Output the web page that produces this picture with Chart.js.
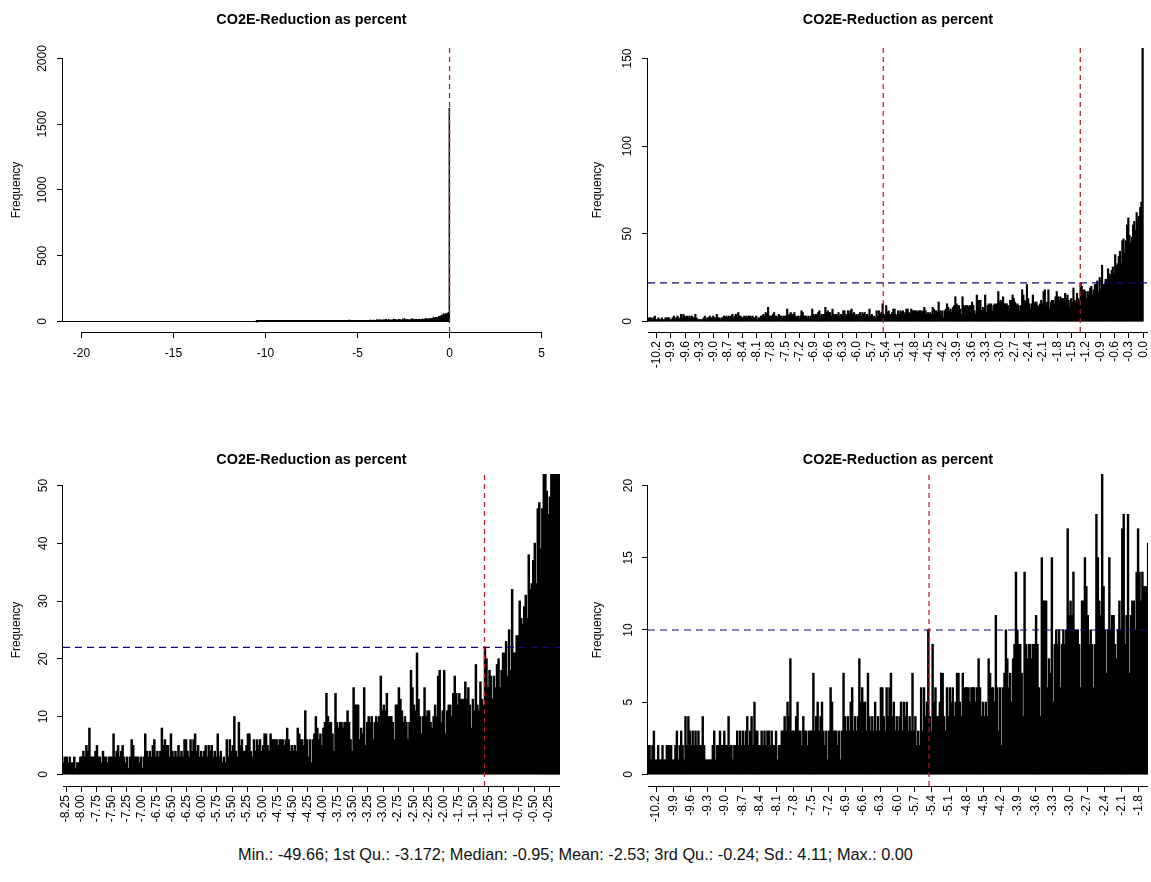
<!DOCTYPE html>
<html>
<head>
<meta charset="utf-8">
<title>CO2E-Reduction as percent</title>
<script src="https://cdn.jsdelivr.net/npm/chart.js@4.4.0/dist/chart.umd.min.js"></script>
<style>
    html, body { margin: 0; padding: 0; background: #fff; }
    #wrap { position: relative; width: 1151px; height: 882px; overflow: hidden; }
    #wrap canvas { position: absolute; }
    #summary {
        position: absolute; left: 0; top: 845px; width: 1151px;
        text-align: center; color: #111;
        font: 16.3px "Liberation Sans", Arial, sans-serif;
    }
</style>
</head>
<body>
<div id="wrap">
    <canvas id="p1" width="575" height="420" style="left:0px;top:0px"></canvas>
    <canvas id="p2" width="576" height="420" style="left:575px;top:0px"></canvas>
    <canvas id="p3" width="575" height="420" style="left:0px;top:420px"></canvas>
    <canvas id="p4" width="576" height="420" style="left:575px;top:420px"></canvas>
    <div id="summary"></div>
</div>
<script>
// histogram bins (same breaks in every panel)
let binStart = -10.5
let binWidth = 0.025
let counts = [
    1,0,1,2,1, 2,2,2,1,2, 3,1,1,2,1, 1,2,1,1,2,
    2,2,2,1,1, 2,3,1,2,3, 2,1,4,2,4, 3,2,3,2,3,
    2,3,2,2,4, 2,1,1,1,1, 1,2,3,1,2, 2,3,2,2,3,
    2,2,4,2,2, 1,2,2,3,2, 3,2,3,2,3, 4,2,3,4,2,
    5,3,3,2,2, 3,2,3,2,3, 3,2,3,2,2, 3,1,2,2,3,
    3,4,3,5,4, 8,3,3,3,4, 5,3,3,2,4, 3,3,2,3,3,
    3,7,3,4,5, 3,4,5,3,2, 3,1,3,6,5, 3,3,3,2,3,
    1,3,7,4,3, 4,3,5,6,3, 4,3,4,8,5, 6,5,5,3,7,
    4,3,4,3,5, 3,4,3,6,6, 4,3,6,4,6, 7,4,5,3,4,
    3,4,5,3,5, 4,5,3,4,3, 7,3,4,2,3, 2,6,3,6,4,
    5,10,4,3,9, 5,6,4,4,5, 7,7,4,3,6, 4,6,5,6,4,
    5,7,7,5,4, 7,6,6,6,6, 5,6,6,6,5, 6,8,6,4,5,
    4,5,4,8,7, 6,6,5,11,6, 3,6,2,6,7, 10,8,6,7,5,
    8,9,14,10,9, 9,7,4,14,9, 8,9,9,8,9, 9,11,9,6,4,
    15,12,12,12,6, 8,7,15,5,9, 10,9,10,6,9, 10,9,10,17,11,
    12,11,14,10,10, 10,9,6,12,12, 15,13,11,9,10, 9,6,9,18,15,
    12,11,21,13,10, 7,10,15,10,11, 11,9,8,10,12, 10,17,18,9,11,
    18,7,11,12,12, 10,14,17,14,12, 14,13,13,13,16, 13,15,12,8,13,
    11,19,12,11,16, 13,12,22,20,15, 18,17,13,17,15, 19,20,15,18,21,
    21,23,17,25,18, 32,21,21,24,24, 30,27,26,29,31, 27,38,32,33,37,
    40,33,46,47,39, 46,55,59,49,45, 48,55,57,52,62, 58,60,65,68,1620
]

let titleText = "CO2E-Reduction as percent"
let yLabel = "Frequency"
let summaryText = "Min.: -49.66; 1st Qu.: -3.172; Median: -0.95; Mean: -2.53; 3rd Qu.: -0.24; Sd.: 4.11; Max.: 0.00"

// tick labels
let xTicks1 = [-20, -15, -10, -5, 0, 5]
let yTicks1 = [0, 500, 1000, 1500, 2000]
let xTicks2 = [-10.2, -9.9, -9.6, -9.3, -9.0, -8.7, -8.4, -8.1, -7.8, -7.5, -7.2, -6.9, -6.6, -6.3, -6.0, -5.7, -5.4, -5.1, -4.8, -4.5, -4.2, -3.9, -3.6, -3.3, -3.0, -2.7, -2.4, -2.1, -1.8, -1.5, -1.2, -0.9, -0.6, -0.3, 0.0]
let yTicks2 = [0, 50, 100, 150]
let xTicks3 = [-8.25, -8.00, -7.75, -7.50, -7.25, -7.00, -6.75, -6.50, -6.25, -6.00, -5.75, -5.50, -5.25, -5.00, -4.75, -4.50, -4.25, -4.00, -3.75, -3.50, -3.25, -3.00, -2.75, -2.50, -2.25, -2.00, -1.75, -1.50, -1.25, -1.00, -0.75, -0.50, -0.25]
let yTicks3 = [0, 10, 20, 30, 40, 50]
let xTicks4 = [-10.2, -9.9, -9.6, -9.3, -9.0, -8.7, -8.4, -8.1, -7.8, -7.5, -7.2, -6.9, -6.6, -6.3, -6.0, -5.7, -5.4, -5.1, -4.8, -4.5, -4.2, -3.9, -3.6, -3.3, -3.0, -2.7, -2.4, -2.1, -1.8]
let yTicks4 = [0, 5, 10, 15, 20]

// reference lines
let redLines1 = [0]
let redLines2 = [-5.45, -1.32]
let redLines3 = [-1.32]
let redLines4 = [-5.45]
let blueLevel2 = 22
let blueLevel3 = 22
let blueLevel4 = 10

let fontFamily = "'Liberation Sans', Arial, sans-serif"
let redColor = "#b01818"
let blueColor = "#0a0a70"

Chart.defaults.font.family = fontFamily
Chart.defaults.color = "#000"

document.getElementById("summary").textContent = summaryText


// R style axis lines: only between the given values
let axisLines = {
    id: "axisLines",
    afterDraw(chart, args, opts) {
        let ctx = chart.ctx
        let area = chart.chartArea
        let x = chart.scales.x
        let y = chart.scales.y
        let by = Math.round(area.bottom) + 0.5
        let lx = Math.round(area.left) - 0.5
        ctx.save()
        ctx.strokeStyle = "#000"
        ctx.lineWidth = 1
        ctx.beginPath()
        ctx.moveTo(x.getPixelForValue(opts.xFrom), by)
        ctx.lineTo(x.getPixelForValue(opts.xTo), by)
        ctx.moveTo(lx, y.getPixelForValue(opts.yFrom))
        ctx.lineTo(lx, y.getPixelForValue(opts.yTo))
        ctx.stroke()
        ctx.restore()
    }
}


function refLine(points, color, dash) {
    return {
        type: "line",
        data: points,
        borderColor: color,
        borderWidth: 1.2,
        borderDash: dash,
        pointRadius: 0,
        fill: false,
        order: 0
    }
}


function Histogram(ElementID, p) {

    let bars = counts.map((c, i) => ({ x: binStart + (i + 0.5) * binWidth, y: c }))

    let datasets = [{
        type: "bar",
        data: bars,
        backgroundColor: "#000",
        borderWidth: 0,
        barPercentage: 1,
        categoryPercentage: 1,
        inflateAmount: 0.5,
        minBarLength: p.minBar,
        order: 2
    }]

    if (p.baseline) {
        datasets.push(refLine([{ x: p.xMin, y: 0 }, { x: 0, y: 0 }], "#000", []))
    }
    p.red.forEach(v => {
        datasets.push(refLine([{ x: v, y: p.yMin }, { x: v, y: p.yMax }], redColor, [5, 4]))
    })
    if (p.blue != null) {
        datasets.push(refLine([{ x: p.xMin, y: p.blue }, { x: p.xMax, y: p.blue }], blueColor, [7, 5]))
    }

    new Chart(document.getElementById(ElementID), {
        data: { datasets: datasets },
        plugins: [axisLines],
        options: {
            responsive: false,
            animation: false,
            devicePixelRatio: 1,
            layout: { padding: { left: 0, right: p.padRight, top: 0, bottom: 0 } },
            plugins: {
                legend: { display: false },
                tooltip: { enabled: false },
                title: {
                    display: true,
                    text: titleText,
                    fullSize: false,
                    color: "#000",
                    font: { size: 14.4, weight: "bold" },
                    padding: { top: p.titleTop, bottom: p.titleBottom }
                },
                axisLines: {
                    xFrom: p.axisFrom, xTo: p.axisTo,
                    yFrom: p.yTicks[0], yTo: p.yTicks[p.yTicks.length - 1]
                }
            },
            scales: {
                x: {
                    type: "linear",
                    min: p.xMin,
                    max: p.xMax,
                    offset: false,
                    border: { display: false },
                    grid: { display: true, offset: false, drawOnChartArea: false, drawTicks: true, tickLength: 6, color: "#000" },
                    ticks: {
                        autoSkip: false,
                        minRotation: p.rot,
                        maxRotation: p.rot,
                        padding: p.xPad,
                        font: { size: 12 },
                        color: "#000",
                        callback: v => p.digits ? Number(v).toFixed(p.digits) : String(v)
                    },
                    afterBuildTicks: s => { s.ticks = p.xTicks.map(v => ({ value: v })) },
                    afterFit: s => { s.height = p.xHeight; s.paddingLeft = 0; s.paddingRight = 0 }
                },
                y: {
                    type: "linear",
                    min: p.yMin,
                    max: p.yMax,
                    border: { display: false },
                    grid: { display: true, drawOnChartArea: false, drawTicks: true, tickLength: 6, color: "#000" },
                    ticks: {
                        minRotation: 90,
                        maxRotation: 90,
                        crossAlign: "center",
                        padding: p.yPad,
                        font: { size: 12 },
                        color: "#000",
                        callback: v => String(v)
                    },
                    title: {
                        display: true,
                        text: yLabel,
                        color: "#000",
                        font: { size: 12 },
                        padding: { top: p.labelPad, bottom: 0 }
                    },
                    afterBuildTicks: s => { s.ticks = p.yTicks.map(v => ({ value: v })) },
                    afterFit: s => { s.width = p.yWidth; s.paddingTop = 0; s.paddingBottom = 0 }
                }
            }
        }
    })
}


// top left: full range
Histogram("p1", {
    xMin: -21, xMax: 6, yMin: -80, yMax: 2080,
    xTicks: xTicks1, yTicks: yTicks1, digits: 0, rot: 0, xPad: 8, yPad: 1,
    axisFrom: xTicks1[0], axisTo: xTicks1[xTicks1.length - 1],
    red: redLines1, blue: null, baseline: true, minBar: 1,
    yWidth: 63, xHeight: 88, padRight: 15, titleTop: 11, titleBottom: 19.7, labelPad: 9
})

// top right
Histogram("p2", {
    xMin: -10.38, xMax: 0.10, yMin: -6, yMax: 156,
    xTicks: xTicks2, yTicks: yTicks2, digits: 1, rot: 90, xPad: 3, yPad: 4,
    axisFrom: -10.38, axisTo: 0.10,
    red: redLines2, blue: blueLevel2, baseline: false, minBar: 0,
    yWidth: 73, xHeight: 88, padRight: 3, titleTop: 11, titleBottom: 19.7, labelPad: 15
})

// bottom left
Histogram("p3", {
    xMin: -8.30, xMax: -0.07, yMin: -2, yMax: 52,
    xTicks: xTicks3, yTicks: yTicks3, digits: 2, rot: 90, xPad: 3, yPad: 7,
    axisFrom: -8.30, axisTo: -0.07,
    red: redLines3, blue: blueLevel3, baseline: false, minBar: 0,
    yWidth: 63, xHeight: 54, padRight: 15, titleTop: 31.4, titleBottom: 5.3, labelPad: 9
})

// bottom right
Histogram("p4", {
    xMin: -10.34, xMax: -1.64, yMin: -0.8, yMax: 20.8,
    xTicks: xTicks4, yTicks: yTicks4, digits: 1, rot: 90, xPad: 3, yPad: 7,
    axisFrom: -10.34, axisTo: -1.64,
    red: redLines4, blue: blueLevel4, baseline: false, minBar: 0,
    yWidth: 73, xHeight: 54, padRight: 3, titleTop: 31.4, titleBottom: 5.3, labelPad: 15
})
</script>
</body>
</html>
